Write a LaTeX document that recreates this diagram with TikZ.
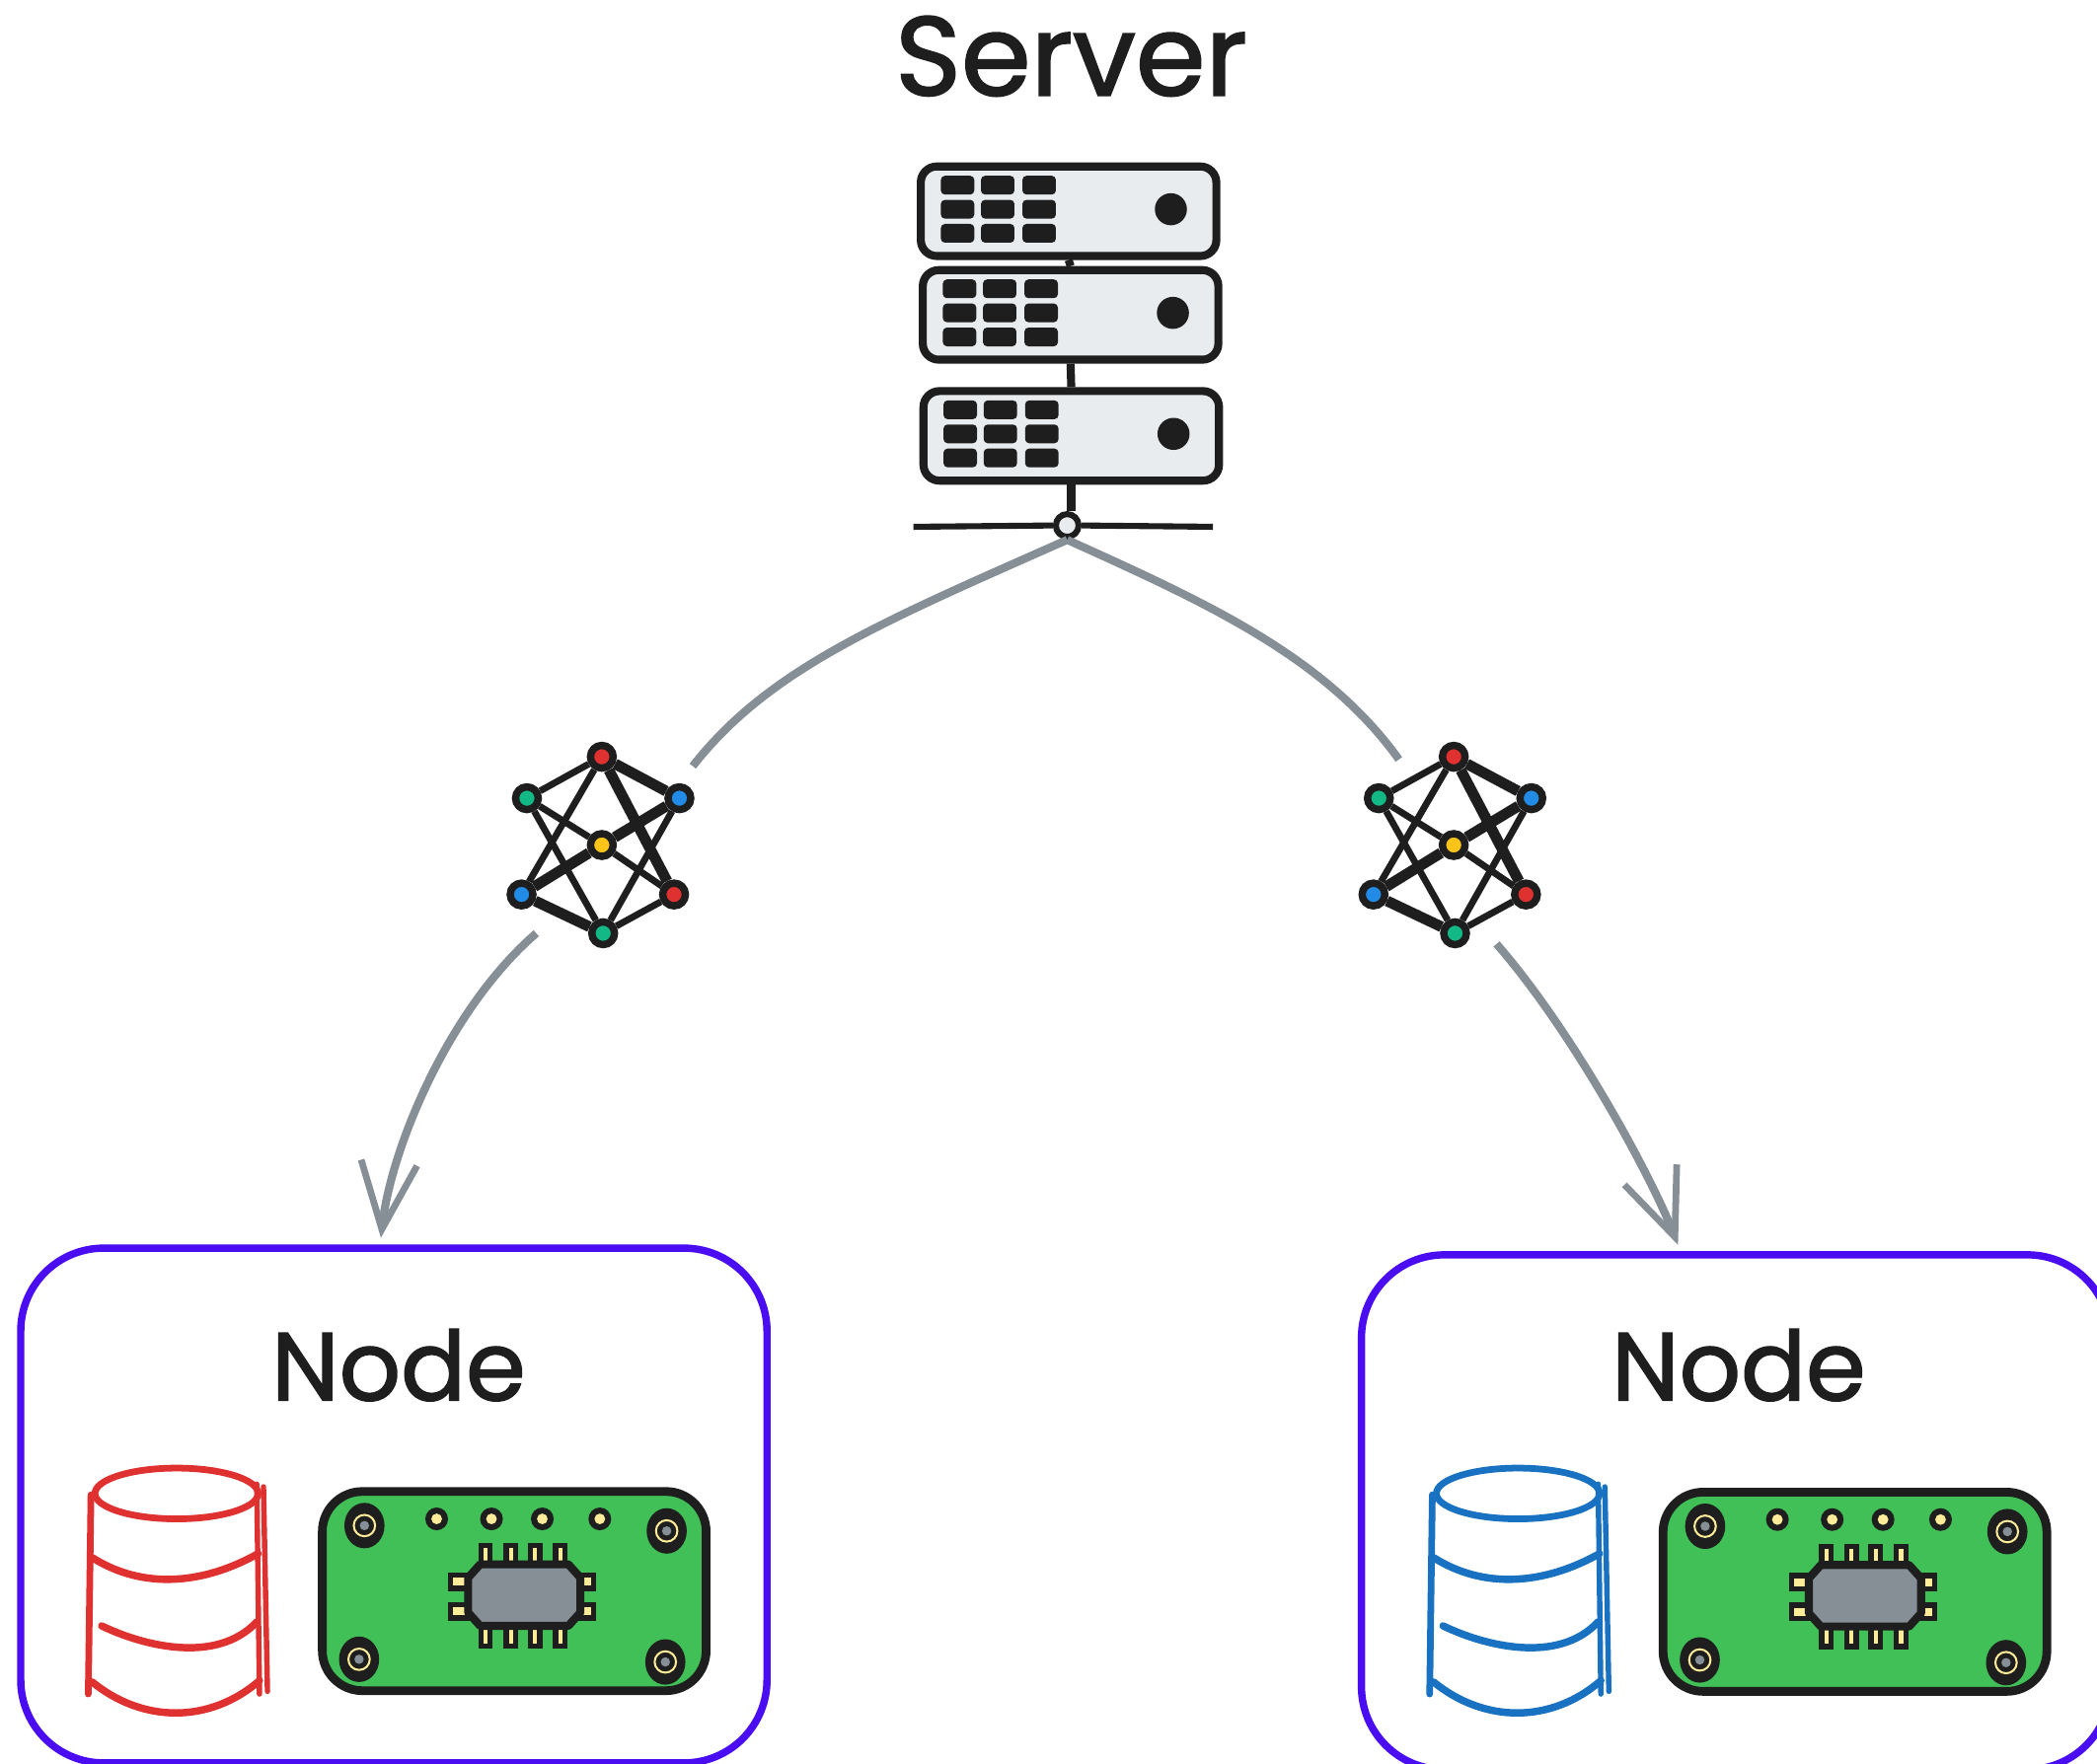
\documentclass[tikz,border=0pt]{standalone}
\usepackage{fontspec}
\setmainfont{Poppins}[FakeBold=1.6]
\usetikzlibrary{arrows.meta}
\usetikzlibrary{calc}
\definecolor{ink}{HTML}{1E1E1E}
\definecolor{rackgrey}{HTML}{E9ECEF}
\definecolor{linkgrey}{HTML}{868E96}
\definecolor{boxviolet}{HTML}{4A0DF2}
\definecolor{dotred}{HTML}{E03131}
\definecolor{dotgreen}{HTML}{12B886}
\definecolor{dotblue}{HTML}{228BE6}
\definecolor{dotyellow}{HTML}{FCC419}
\definecolor{dbred}{HTML}{E03131}
\definecolor{dbblue}{HTML}{1971C2}
\definecolor{pcbgreen}{HTML}{40C057}
\definecolor{padyellow}{HTML}{FFEC99}
\tikzset{
    sketchlabel/.style={inner sep=0pt, text=ink, font=\fontsize{#1}{#1}\selectfont},
    rackbox/.style={draw=ink, fill=rackgrey, line width=6pt, rounded corners=12pt, minimum width=221pt, minimum height=67pt},
    rackline/.style={draw=ink, line width=6pt},
    hubdot/.style={circle, draw=ink, fill=rackgrey, line width=4.5pt, minimum size=17pt, inner sep=0pt},
    netdot/.style={circle, draw=ink, line width=5.5pt, minimum size=17pt, inner sep=0pt},
    thinedge/.style={draw=ink, line width=5pt},
    fatedge/.style={draw=ink, line width=8pt},
    link/.style={draw=linkgrey, line width=6pt},
    linkarrow/.style={link, -{Straight Barb[length=50pt, width=42pt, line width=5pt]}, shorten >=5pt},
    nodebox/.style={draw=boxviolet, line width=5.5pt, rounded corners=62pt, minimum width=558pt, minimum height=385pt},
    pcb/.style={draw=ink, fill=pcbgreen, line width=6.5pt, rounded corners=30pt, minimum width=287pt, minimum height=149pt},
    pin/.style={draw=ink, fill=padyellow, line width=4pt},
    pics/netglyph/.style={code={
        \node [netdot, fill=dotred] (-top) at (0, -66) {};
        \node [netdot, fill=dotgreen] (-lu) at (-56, -35) {};
        \node [netdot, fill=dotblue] (-ru) at (58, -35) {};
        \node [netdot, fill=dotyellow] (-mid) at (0, 0) {};
        \node [netdot, fill=dotblue] (-ll) at (-60, 37) {};
        \node [netdot, fill=dotred] (-lr) at (54, 37) {};
        \node [netdot, fill=dotgreen] (-bot) at (1, 66) {};
        \foreach \a/\b in {top/lu, lu/mid, lu/bot, mid/lr, lr/bot, top/ll, ru/bot}
            \draw [thinedge] (-\a) -- (-\b);
        \foreach \a/\b in {top/ru, top/lr, ru/mid, mid/ll, ll/bot}
            \draw [fatedge] (-\a) -- (-\b);
    }},
    pics/dbdrum/.style={code={
        % lid
        \draw [draw=#1, line width=5pt] (0, 0) ellipse (61pt and 19pt);
        % sides
        \draw [draw=#1, line width=5pt, line cap=round] (-64, 1) -- (-66, 150);
        \draw [draw=#1, line width=4pt, line cap=round] (60, -7) -- (62, 150);
        \draw [draw=#1, line width=4pt, line cap=round] (65, -5) -- (68, 148);
        % bands
        \draw [draw=#1, line width=5.5pt, line cap=round] (-63, 48) .. controls (-25, 72) and (20, 68) .. (61, 45);
        \draw [draw=#1, line width=5.5pt, line cap=round] (-56, 99) .. controls (-25, 114) and (30, 128) .. (60, 96);
        \draw [draw=#1, line width=5.5pt, line cap=round] (-63, 141) .. controls (-25, 172) and (25, 172) .. (62, 140);
    }},
    pics/boardglyph/.style={code={
        \node [pcb] (-pcb) at (0, 0) {};
        % screws
        \foreach \sx/\sy in {-112/-49, 114/-45, -116/51, 113/53} {
            \fill [ink] (\sx, \sy) ellipse (15pt and 17pt);
            \draw [padyellow, line width=1.5pt] (\sx, \sy) circle (8pt);
            \fill [linkgrey] (\sx, \sy) circle (3.5pt);
        }
        % solder pads
        \foreach \px in {-58, -17, 21, 64} {
            \fill [ink] (\px, -54) circle (8.5pt);
            \fill [padyellow] (\px, -54) circle (4pt);
        }
        % chip
        \begin{scope}[shift={(7.5, 3)}]
            \foreach \px in {-29, -10, 8, 27} {
                \draw [pin] (\px-3.5, -37) rectangle (\px+3.5, -22);
                \draw [pin] (\px-3.5, 22) rectangle (\px+3.5, 38);
            }
            \foreach \py in {-10, 12} {
                \draw [pin] (-55, \py-5) rectangle (-42, \py+5);
                \draw [pin] (41, \py-5) rectangle (52, \py+5);
            }
            \draw [draw=ink, fill=linkgrey, line width=6pt, line join=round]
                (-33, -23) -- (33, -23) -- (42, -13) -- (42, 13) -- (33, 23) -- (-33, 23) -- (-42, 13) -- (-42, -13) -- cycle;
        \end{scope}
    }},
}

\begin{document}
\begin{tikzpicture}[x=1pt, y=-1pt]
    \useasboundingbox (0, 0) rectangle (1568, 1318.6);
    % server
    \node [sketchlabel=84] (servertext) at (801, 42) {Server};
    \node [rackbox] (rack1) at (799, 158) {};
    \node [rackbox] (rack2) at (800.5, 235.5) {};
    \node [rackbox] (rack3) at (801, 326) {};
    \foreach \r in {rack1, rack2, rack3} {
        \foreach \cx in {18, 48, 79}
            \foreach \ry in {10, 28, 46}
                \fill [ink, rounded corners=3pt] ($(\r.north west)+(\cx, \ry)$) rectangle ++(25, 14);
        \fill [ink] ($(\r.north west)+(190, 35)$) circle (12pt);
    }
    \draw [rackline] (rack1.south) to (rack2.north);
    \draw [rackline] (rack2.south) to (rack3.north);
    \node [hubdot] (hub) at (798, 393) {};
    \draw [rackline] (rack3.south) to (rack3.south |- hub.north);
    \coordinate (barleft) at (683, 394);
    \coordinate (barright) at (907, 394);
    \draw [rackline, line width=4.5pt] (barleft) to (hub.west);
    \draw [rackline, line width=4.5pt] (hub.east) to (barright);
    % networks
    \pic (netl) at (450, 632) {netglyph};
    \pic (netr) at (1087, 632) {netglyph};
    \coordinate (netlin) at (518, 573);
    \coordinate (netlout) at (401, 698);
    \coordinate (netrin) at (1046, 568);
    \coordinate (netrout) at (1119, 706);
    % left node
    \node [nodebox] (nodea) at (294.5, 1126) {};
    \node [sketchlabel=72] (nodeatext) at (298, 1021) {Node};
    \pic at (132, 1117) {dbdrum=dbred};
    \pic (boarda) at (384.5, 1190) {boardglyph};
    % right node
    \node [nodebox, minimum width=560pt] (nodeb) at (1298, 1131) {};
    \node [sketchlabel=72] (nodebtext) at (1300, 1021) {Node};
    \pic at (1135, 1117) {dbdrum=dbblue};
    \pic (boardb) at (1387, 1190.5) {boardglyph};
    % links
    \draw [link] (hub.south) .. controls (660, 465) and (575, 500) .. (netlin);
    \draw [link] (hub.south) .. controls (900, 450) and (990, 490) .. (netrin);
    \draw [linkarrow] (netlout) .. controls (335, 755) and (292, 860) .. (nodea.93);
    \draw [linkarrow] (netrout) .. controls (1175, 770) and (1234, 878) .. (nodeb.102);
\end{tikzpicture}
\end{document}
